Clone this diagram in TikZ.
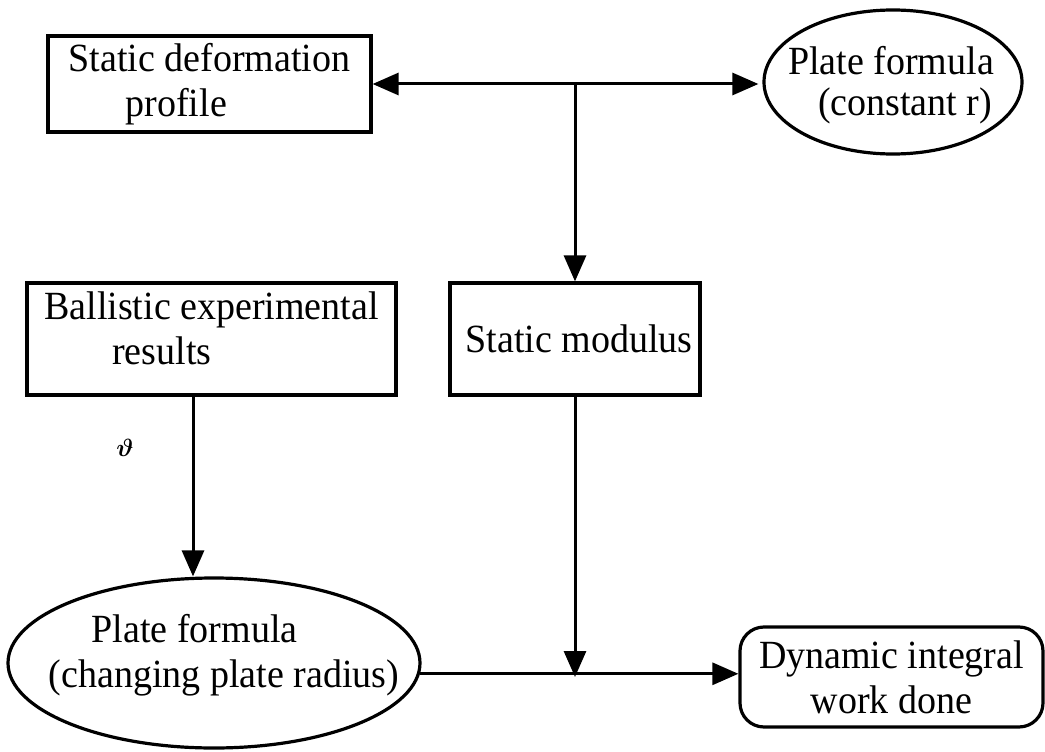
\documentclass[tikz,border=0pt]{standalone}
\usepackage{fontspec}
\setmainfont[FakeStretch=0.95]{Liberation Serif}
\usetikzlibrary{arrows.meta,shapes.geometric,calc}
\begin{document}
\begin{tikzpicture}[x=1pt,y=-1pt,
  every node/.style={font=\fontsize{40}{45}\selectfont, inner sep=0pt},
  boxnode/.style={draw, line width=3.2pt, rectangle},
  ovalnode/.style={draw, line width=3.2pt, ellipse},
  roundnode/.style={draw, line width=3.2pt, rectangle, rounded corners=24pt},
  conn/.style={line width=3pt},
  tip/.style={-{Triangle[length=26pt,width=22pt]}},
  bothtips/.style={{Triangle[length=26pt,width=22pt]}-{Triangle[length=26pt,width=22pt]}}]
\useasboundingbox (0,0) rectangle (1045,752);

% boxes
\node[boxnode, minimum width=323pt, minimum height=96pt, align=left] (deform) at (209.5,84)
  {Static deformation\\\hspace*{57pt}profile};
\node[boxnode, minimum width=250pt, minimum height=112pt] (modulus) at (575,339)
  {\hspace*{8pt}Static modulus};
\node[boxnode, minimum width=369pt, minimum height=112pt, align=left] (ballistic) at (211.5,339)
  {Ballistic experimental\\\hspace*{68pt}results\\[-24pt]\mbox{}};
\node[roundnode, minimum width=303pt, minimum height=100pt, align=center] (work) at (891.5,677)
  {Dynamic integral\\work done};

% ovals, drawn at fixed size with their text set on top
\node[ovalnode, minimum width=258pt, minimum height=144pt] (plateconst) at (893,82) {};
\node[align=left] (plateconsttext) at (891,85) {Plate formula\\[-4pt]\hspace*{30pt}(constant r)};
\node[ovalnode, minimum width=412pt, minimum height=170pt] (platechange) at (214,663) {};
\node[align=left] (platechangetext) at (224,655)
  {\hspace*{43pt}Plate formula\\(changing plate radius)};

% small stray mark
\node[font={\fontsize{36}{36}\selectfont\boldmath}] (mark) at (125,448) {$\vartheta$};

% connectors
\coordinate (topjoin) at (modulus.north |- deform.east);
\draw[conn, bothtips] (deform.east) -- ([xshift=-4pt]deform.east -| plateconst.west);
\draw[conn, tip] (topjoin) -- (modulus.north);

\coordinate (ballout) at ([xshift=-18.5pt]ballistic.south);
\draw[conn, tip] (ballout) -- (ballout |- platechange.north);

\coordinate (ovalout) at (platechange.-3.9);
\coordinate (lowjoin) at (modulus.south |- work.west);
\draw[conn, tip] (ovalout) -- (ovalout -| work.west);
\draw[conn, tip] (modulus.south) -- (lowjoin);
\end{tikzpicture}
\end{document}
